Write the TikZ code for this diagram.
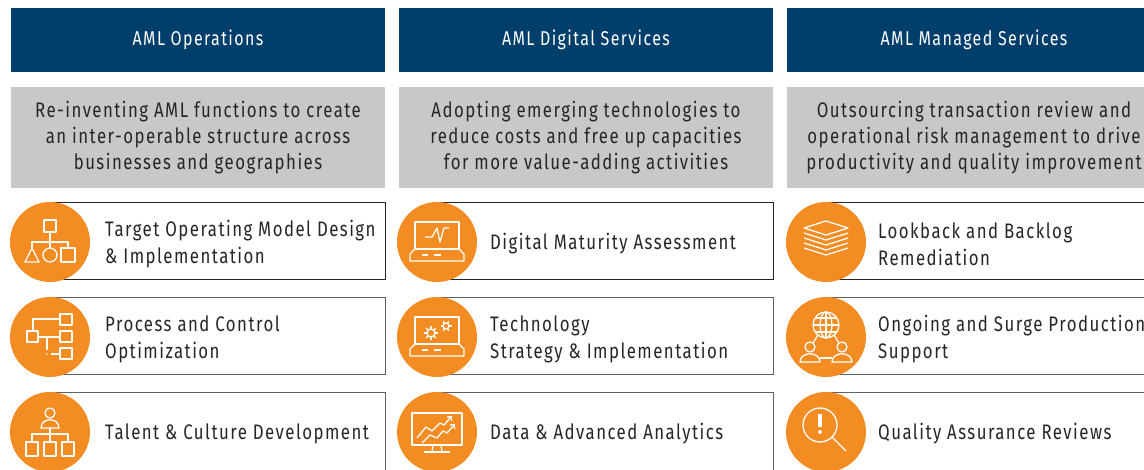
\documentclass[tikz,border=0pt]{standalone}
\usepackage{fontspec}
\setmainfont{Fira Sans}[FakeStretch=0.8,LetterSpace=7]
\usetikzlibrary{arrows.meta}
\definecolor{amlblue}{RGB}{0,63,107}
\definecolor{amlgray}{RGB}{200,200,198}
\definecolor{amlorange}{RGB}{243,140,34}
\definecolor{amlline}{RGB}{35,35,40}
\definecolor{amlsoft}{RGB}{95,95,100}

\begin{document}
\begin{tikzpicture}[x=1pt,y=-1pt,
  colhead/.style={fill=amlblue,text=white,minimum width=374pt,minimum height=64pt,inner sep=0pt,font=\fontsize{20}{24}\selectfont},
  colsummary/.style={fill=amlgray,text=black!85,minimum width=374pt,minimum height=101pt,inner sep=0pt,align=center,font=\fontsize{21}{26}\selectfont},
  itembox/.style={draw=amlline,line width=1pt,fill=white,minimum height=77pt,inner sep=0pt},
  itemcircle/.style={circle,fill=amlorange,minimum size=80pt,inner sep=0pt},
  itemtext/.style={anchor=west,align=left,inner sep=0pt,text=black!85,font=\fontsize{21}{27}\selectfont},
  iconline/.style={draw=white,line width=1.3pt,line join=round}]
\useasboundingbox (0,0) rectangle (1144,470);
\clip (0,0) rectangle (1144,470);

% column heads
\node[colhead] (ops) at (198,40) {AML Operations};
\node[colhead] (dig) at (586,40) {AML Digital Services};
\node[colhead] (man) at (974,40) {AML Managed Services};

\node[colsummary] (opsdesc) at (198,138) {Re-inventing AML functions to create\\an inter-operable structure across\\businesses and geographies};
\node[colsummary] (digdesc) at (586,138) {Adopting emerging technologies to\\reduce costs and free up capacities\\for more value-adding activities};
\node[colsummary] (mandesc) at (974,138) {Outsourcing transaction review and\\operational risk management to drive\\productivity and quality improvement};

% boxes
\node[itembox,minimum width=335pt] (tombox) at (217.5,241.5) {};
\node[itembox,draw=amlsoft,minimum width=335pt] (pcobox) at (217.5,336.5) {};
\node[itembox,draw=amlsoft,minimum width=335pt,minimum height=95pt] (tcdbox) at (217.5,440.5) {};
\node[itembox,minimum width=336pt] (dmabox) at (605,241.5) {};
\node[itembox,draw=amlsoft,minimum width=336pt] (tsibox) at (605,336.5) {};
\node[itembox,draw=amlsoft,minimum width=336pt,minimum height=95pt] (daabox) at (605,440.5) {};
\node[itembox,minimum width=340pt] (lbrbox) at (996,241.5) {};
\node[itembox,draw=amlsoft,minimum width=340pt] (ospbox) at (996,336.5) {};
\node[itembox,draw=amlsoft,minimum width=340pt,minimum height=95pt] (qarbox) at (996,440.5) {};

% circles
\node[itemcircle] (tomicon) at (50,242) {};
\node[itemcircle] (pcoicon) at (50,337) {};
\node[itemcircle] (tcdicon) at (50,432) {};
\node[itemcircle] (dmaicon) at (437,242) {};
\node[itemcircle] (tsiicon) at (437,337) {};
\node[itemcircle] (daaicon) at (437,432) {};
\node[itemcircle] (lbricon) at (826,242) {};
\node[itemcircle] (ospicon) at (826,337) {};
\node[itemcircle] (qaricon) at (826,432) {};

% texts
\node[itemtext] (tom) at (105,244) {Target Operating Model Design\\\& Implementation};
\node[itemtext] (pco) at (105,339) {Process and Control\\Optimization};
\node[itemtext] (tcd) at (105,434) {Talent \& Culture Development};
\node[itemtext] (dma) at (490,244) {Digital Maturity Assessment};
\node[itemtext] (tsi) at (490,339) {Technology\\Strategy \& Implementation};
\node[itemtext] (daa) at (490,434) {Data \& Advanced Analytics};
\node[itemtext] (lbr) at (878,244) {Lookback and Backlog\\Remediation};
\node[itemtext] (osp) at (878,339) {Ongoing and Surge Production\\Support};
\node[itemtext] (qar) at (878,434) {Quality Assurance Reviews};

% org chart
\begin{scope}[shift={(tomicon.center)}]
\draw[iconline] (-6,-22) rectangle (6,-10);
\draw[iconline] (0,-10) -- (0,6);
\draw[iconline] (-18,6) -- (-18,0) -- (18,0) -- (18,6);
\draw[iconline] (-18,6) -- (-25,20) -- (-11,20) -- cycle;
\draw[iconline] (0,13) circle (7);
\draw[iconline] (11,6) rectangle (25,20);
\end{scope}

% process
\begin{scope}[shift={(pcoicon.center)}]
\draw[iconline] (10,-23) rectangle (22,-12);
\draw[iconline] (10,-6) rectangle (22,5);
\draw[iconline] (10,11) rectangle (22,22);
\draw[iconline] (-23,-6) rectangle (-12,5);
\draw[iconline] (-17,-6) -- (-17,-18) -- (10,-18);
\draw[iconline] (-12,0) -- (10,0);
\draw[iconline] (-3,0) -- (-3,13);
\draw[iconline] (1,17) -- (10,17);
\fill[white] (-3,17) circle (0.9);
\end{scope}

% talent
\begin{scope}[shift={(tcdicon.center)}]
\draw[iconline] (0,-19) circle (5);
\draw[iconline] (-9,-4) .. controls (-9,-15) and (9,-15) .. (9,-4) -- cycle;
\draw[iconline] (0,-4) -- (0,2);
\draw[iconline] (-18,10) -- (-18,2) -- (18,2) -- (18,10);
\draw[iconline] (0,2) -- (0,10);
\draw[iconline] (-24,10) rectangle (-12,24);
\draw[iconline] (-6,10) rectangle (6,24);
\draw[iconline] (12,10) rectangle (24,24);
\end{scope}

% laptop with pulse
\begin{scope}[shift={(dmaicon.center)}]
\draw[iconline] (-22,-20) rectangle (22,7);
\draw[iconline] (-22,7) -- (-27,12) -- (-27,19) -- (27,19) -- (27,12) -- (22,7);
\draw[iconline] (-15,13) -- (-9,13);
\draw[iconline] (-3,13) -- (4,13);
\draw[iconline] (-12,-5) -- (-5,-5) -- (0,-14) -- (3,0) -- (7,-14) -- (12,-14);
\end{scope}

% laptop with gears
\begin{scope}[shift={(tsiicon.center)}]
\draw[iconline] (-22,-20) rectangle (22,7);
\draw[iconline] (-22,7) -- (-27,12) -- (-27,19) -- (27,19) -- (27,12) -- (22,7);
\draw[iconline] (-15,13) -- (-9,13);
\draw[iconline] (-3,13) -- (4,13);
\begin{scope}[shift={(-6,-4)}]
\draw[iconline] (0,0) circle (4);
\foreach \a in {0,45,...,315} \draw[iconline] (\a:4) -- (\a:7);
\end{scope}
\begin{scope}[shift={(9,-11)}]
\draw[iconline] (0,0) circle (3);
\foreach \a in {0,60,...,300} \draw[iconline] (\a:3) -- (\a:5.5);
\end{scope}
\end{scope}

% monitor with trends
\begin{scope}[shift={(daaicon.center)}]
\draw[iconline] (-25,-19) rectangle (25,13);
\draw[iconline] (-4,13) -- (-5,20);
\draw[iconline] (4,13) -- (5,20);
\draw[iconline] (-13,20) -- (13,20);
\draw[iconline,-{Straight Barb[length=3pt]}] (-20,6) -- (-11,-5) -- (-5,-1) -- (3,-9) -- (7,-7) -- (15,-16);
\draw[iconline,-{Straight Barb[length=3pt]}] (-15,11) -- (-7,3) -- (0,6) -- (6,-1) -- (10,1) -- (18,-8);
\end{scope}

% layers
\begin{scope}[shift={(lbricon.center)}]
\draw[iconline] (-22,-14) -- (0,-21) -- (22,-14) -- (0,-7) -- cycle;
\foreach \k in {1,...,4}
  \draw[iconline] (-22,-14+5*\k) -- (0,-7+5*\k) -- (22,-14+5*\k);
\end{scope}

% globe and people
\begin{scope}[shift={(ospicon.center)}]
\draw[iconline] (0,-12) circle (13);
\draw[iconline] (0,-12) ellipse (6 and 13);
\draw[iconline] (0,-25) -- (0,1);
\draw[iconline] (-13,-12) -- (13,-12);
\draw[iconline] (-11,-19) -- (11,-19);
\draw[iconline] (-11,-5) -- (11,-5);
\draw[iconline] (-16,10) circle (5);
\draw[iconline] (16,10) circle (5);
\draw[iconline] (-26,25) .. controls (-26,14) and (-6,14) .. (-6,25) -- cycle;
\draw[iconline] (6,25) .. controls (6,14) and (26,14) .. (26,25) -- cycle;
\draw[iconline] (-8,-2) -- (-13,6);
\draw[iconline] (8,-2) -- (13,6);
\draw[iconline] (-6,21) -- (6,21);
\end{scope}

% magnifier
\begin{scope}[shift={(qaricon.center)}]
\draw[iconline] (-6,-7) circle (17);
\draw[iconline] (6,5) -- (20,19);
\draw[white,line width=3.5pt] (-6,-18) -- (-6,-5);
\fill[white] (-6,0) circle (2);
\end{scope}
\end{tikzpicture}
\end{document}
